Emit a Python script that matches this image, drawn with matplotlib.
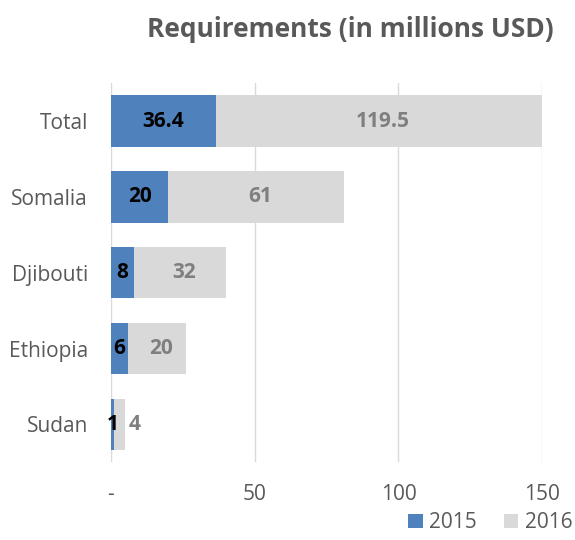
import numpy as np
import matplotlib.pyplot as plt

countries = ['Total', 'Somalia', 'Djibouti', 'Ethiopia', 'Sudan']
req_2015 = [36.4, 20, 8, 6, 1]
req_2016 = [119.5, 61, 32, 20, 4]
lab_2015 = ['36.4', '20', '8', '6', '1']
lab_2016 = ['119.5', '61', '32', '20', '4']
xticks = [0, 50, 100, 150]
xticklabels = ['-', '50', '100', '150']

plt.rcParams['font.family'] = ['Open Sans', 'DejaVu Sans']

fig = plt.figure(figsize=(5.75, 5.4), dpi=100)
ax = fig.add_axes([0.193, 0.144, 0.750, 0.702])

y = np.arange(len(countries))
blue = '#4f81bd'
grey = '#d9d9d9'
ax.barh(y, req_2015, height=0.68, color=blue, label='2015', zorder=2)
ax.barh(y, req_2016, left=req_2015, height=0.68, color=grey, label='2016', zorder=2)

xmax = 150
for i in range(len(countries)):
    a = req_2015[i]
    b = req_2016[i]
    ax.text(a / 2, i, lab_2015[i], ha='center', va='center',
            fontsize=15, fontweight='bold', color='black', zorder=3)
    end = min(a + b, xmax)
    if b < 6:
        ax.text(a + b + 1.2, i, lab_2016[i], ha='left', va='center',
                fontsize=15, fontweight='bold', color='#7f7f7f', zorder=3)
    else:
        ax.text((a + end) / 2 + 1.5, i, lab_2016[i], ha='center', va='center',
                fontsize=15, fontweight='bold', color='#7f7f7f', zorder=3)

ax.set_xlim(0, xmax)
ax.set_ylim(len(countries) - 0.5, -0.5)
ax.set_yticks(y)
ax.set_yticklabels(countries, fontsize=15, color='#595959')
ax.set_xticks(xticks)
ax.set_xticklabels(xticklabels, fontsize=15, color='#595959')
ax.tick_params(axis='x', length=0, pad=16)
ax.tick_params(axis='y', length=0, pad=16.5)
for s in ax.spines.values():
    s.set_visible(False)
ax.grid(axis='x', color='#d9d9d9', linewidth=1, zorder=0)
ax.set_axisbelow(True)

fig.text(0.61, 0.945, 'Requirements (in millions USD)', ha='center', va='center',
         fontsize=19, fontweight='bold', color='#595959')

fig.legend(loc='lower right', bbox_to_anchor=(1.028, -0.022), ncol=2, frameon=False,
           fontsize=15, handlelength=0.7, handleheight=0.7, handletextpad=0.3,
           columnspacing=1.3, labelcolor='#595959')

fig.savefig('out.png', dpi=100)
